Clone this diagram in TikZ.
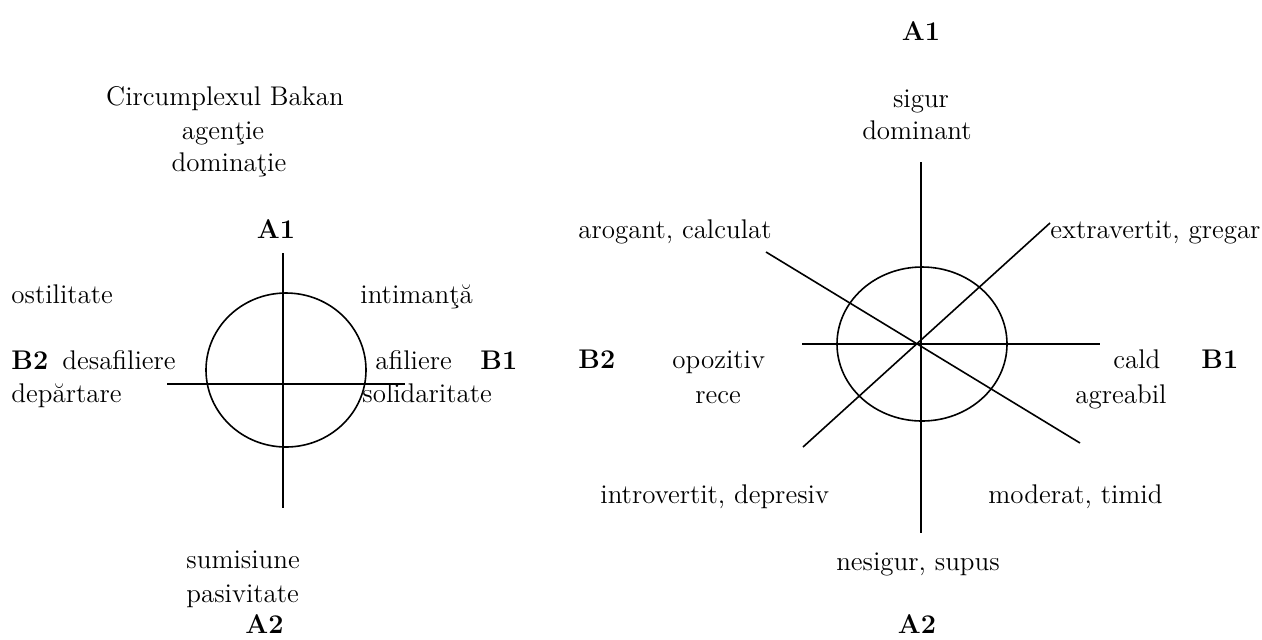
\documentclass[tikz,border=0pt]{standalone}
\usepackage{fontspec}

\begin{document}
\begin{tikzpicture}[x=0.5pt,y=-0.5pt,
    font=\rmfamily\fontsize{13.5}{16.8}\selectfont,
    lbl/.style={inner sep=0pt,anchor=base west},
    mid/.style={inner sep=0pt,anchor=base},
    axa/.style={thick}]
    \useasboundingbox (0,0) rectangle (1262,639);
    % circumplexul Bakan
    \node[mid] (titlu) at (225,105) {Circumplexul Bakan};
    \node[mid] (agentie) at (223,139) {agen\c{t}ie};
    \node[mid] (dominatie) at (229,171) {domina\c{t}ie};
    \node[mid] (la1) at (276,238) {\textbf{A1}};
    \node[lbl] (ostil) at (11,303) {ostilitate};
    \node[lbl] (intim) at (360,303) {intiman\c{t}\u{a}};
    \node[lbl] (lb2) at (11,369) {\textbf{B2}};
    \node[lbl] (desaf) at (62,369) {desafiliere};
    \node[lbl] (depart) at (11,402) {dep\u{a}rtare};
    \node[lbl] (afil) at (375,369) {afiliere};
    \node[lbl] (lb1) at (480,369) {\textbf{B1}};
    \node[lbl] (solid) at (362,402) {solidaritate};
    \node[lbl] (sumis) at (186,568) {sumisiune};
    \node[lbl] (pasiv) at (186,602) {pasivitate};
    \node[lbl] (la2) at (245,633) {\textbf{A2}};
    \coordinate (lsus) at (283,253);
    \coordinate (ljos) at (283,508);
    \coordinate (lst) at (167,384);
    \coordinate (ldr) at (405,384);
    \draw[axa] (286,370) ellipse [x radius=40pt, y radius=38.5pt];
    \draw[axa] (lsus) -- (ljos);
    \draw[axa] (lst) -- (ldr);

    % circumplexul interpersonal
    \node[mid] (ra1) at (921,40) {\textbf{A1}};
    \node[mid] (sigur) at (921,107) {sigur};
    \node[mid] (domin) at (917,139) {dominant};
    \node[lbl] (arog) at (578,238) {arogant, calculat};
    \node[lbl] (extra) at (1050,238) {extravertit, gregar};
    \node[lbl] (rb2) at (578,368) {\textbf{B2}};
    \node[lbl] (opoz) at (672,368) {opozitiv};
    \node[mid] (rece) at (718,403) {rece};
    \node[lbl] (cald) at (1113,368) {cald};
    \node[lbl] (rb1) at (1201,368) {\textbf{B1}};
    \node[mid] (agreab) at (1121,403) {agreabil};
    \node[lbl] (intro) at (600,503) {introvertit, depresiv};
    \node[lbl] (moder) at (988,503) {moderat, timid};
    \node[mid] (nesig) at (918,570) {nesigur, supus};
    \node[mid] (ra2) at (917,633) {\textbf{A2}};
    \coordinate (rsus) at (921,162);
    \coordinate (rjos) at (921,533);
    \coordinate (rst) at (802,344);
    \coordinate (rdr) at (1100,344);
    \coordinate (rd1) at (766,252);
    \coordinate (rd2) at (1080,443);
    \coordinate (rd3) at (1050,223);
    \coordinate (rd4) at (803,447);
    \draw[axa] (922,344) ellipse [x radius=42.5pt, y radius=38.5pt];
    \draw[axa] (rsus) -- (rjos);
    \draw[axa] (rst) -- (rdr);
    \foreach \a/\b in {rd1/rd2,rd3/rd4}
    \draw[axa] (\a) -- (\b);
\end{tikzpicture}
\end{document}
